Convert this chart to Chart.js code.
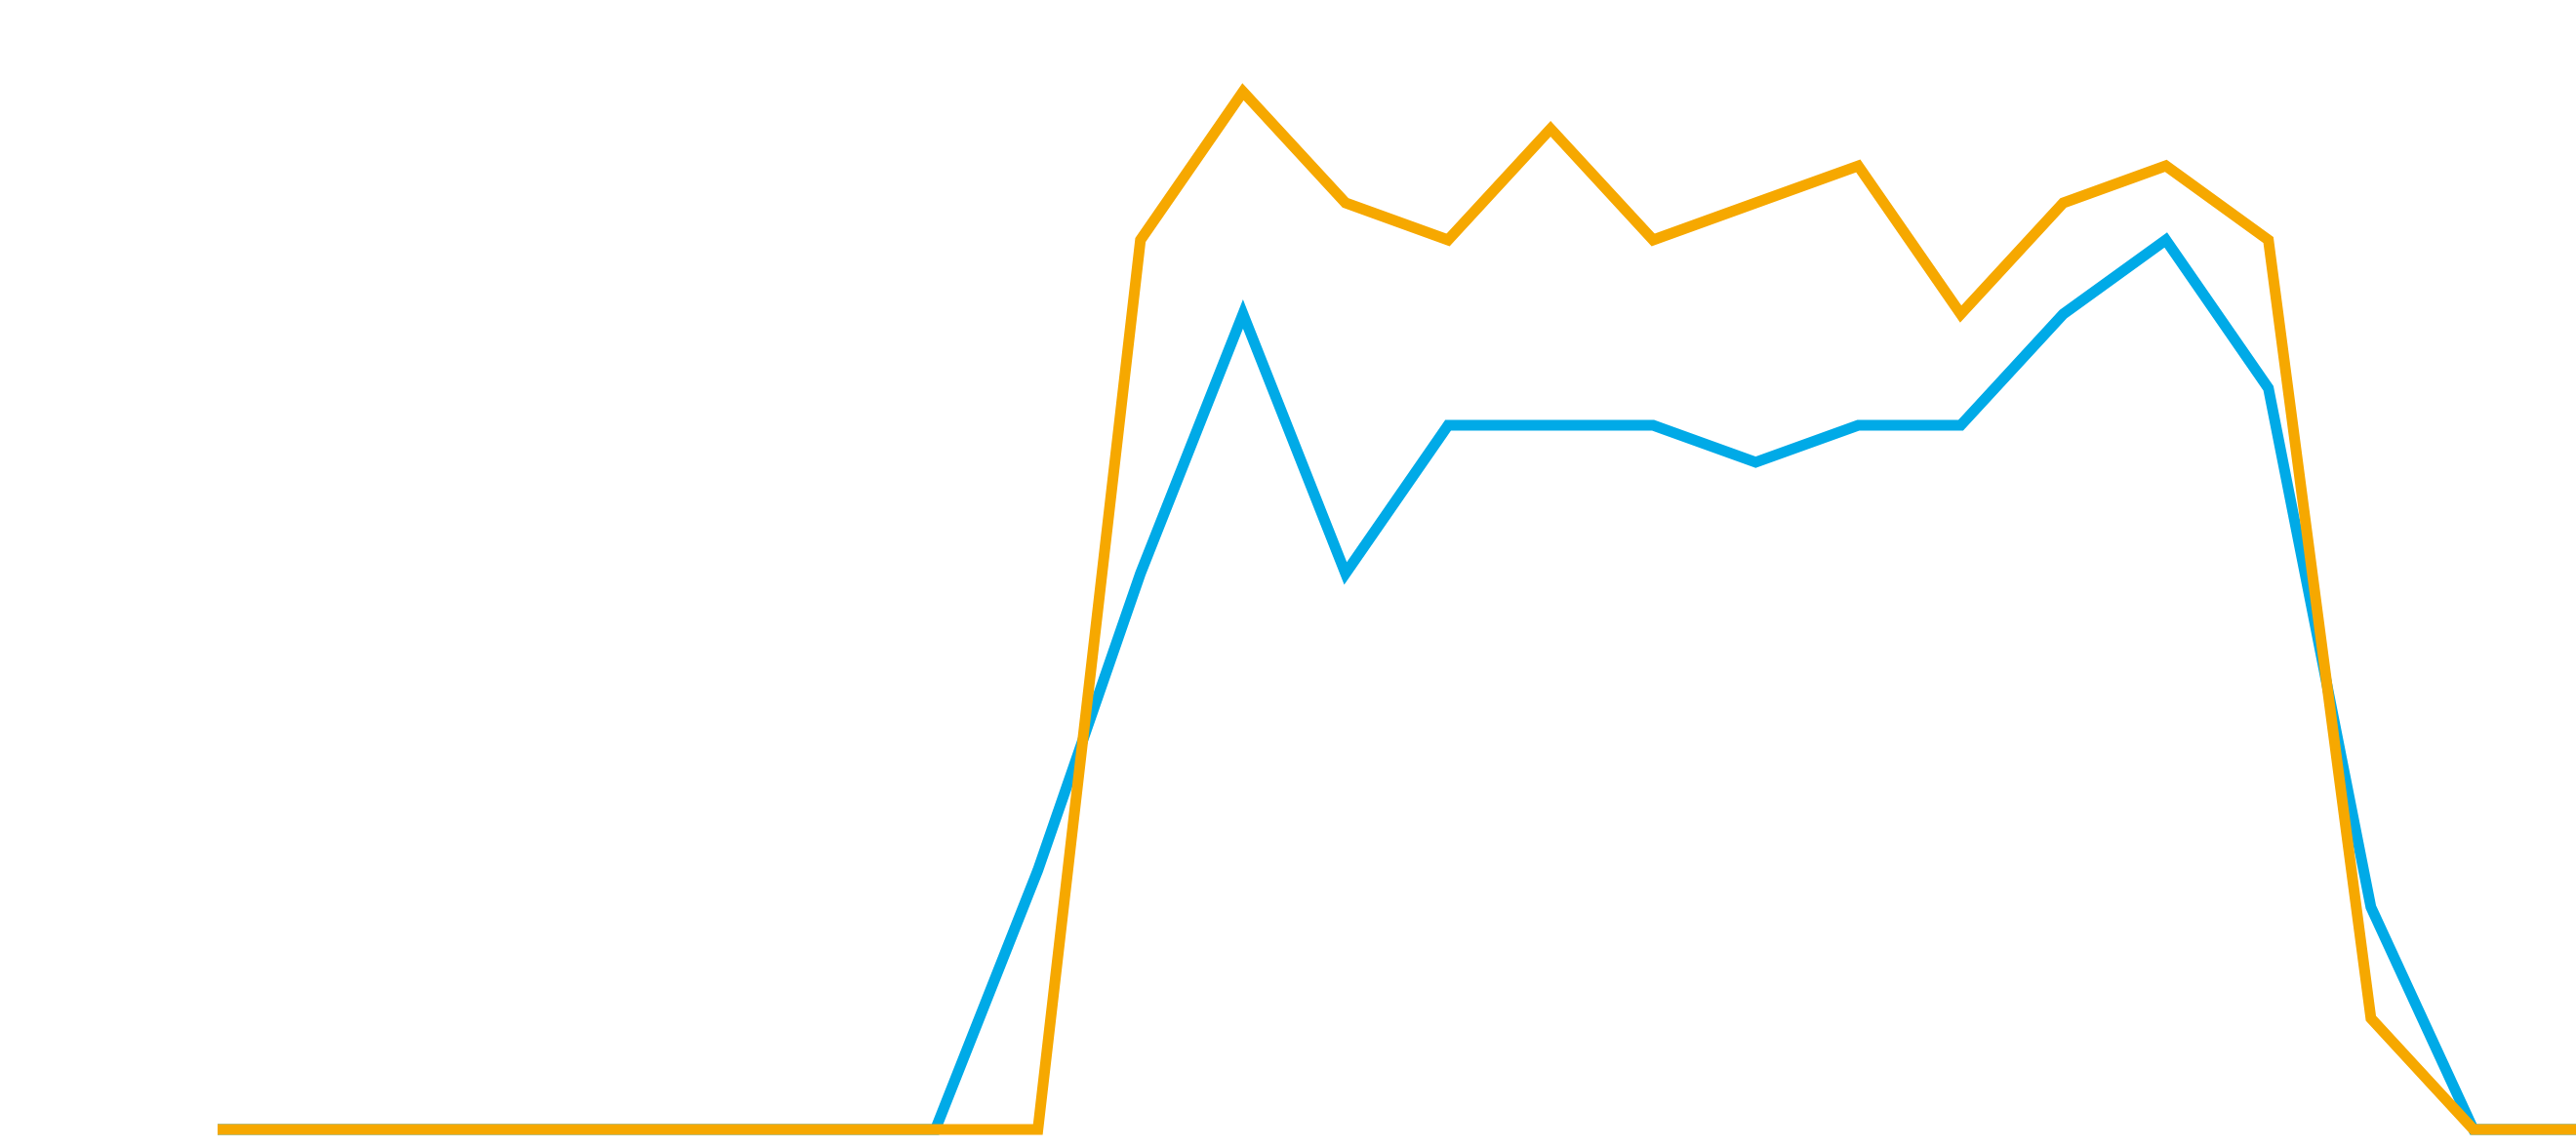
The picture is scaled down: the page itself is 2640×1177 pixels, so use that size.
<!DOCTYPE html>
<html>
<head>
<meta charset="utf-8">
<script src="https://cdn.jsdelivr.net/npm/chart.js@4"></script>
<style>
  html, body { margin: 0; padding: 0; background: #ffffff; }
  #wrap { width: 2640px; height: 1177px; position: relative; }
</style>
</head>
<body>
<div id="wrap"><canvas id="c"></canvas></div>
<script>
const hours = ['00:00','01:00','02:00','03:00','04:00','05:00','06:00','07:00','08:00','09:00','10:00','11:00',
               '12:00','13:00','14:00','15:00','16:00','17:00','18:00','19:00','20:00','21:00','22:00','23:00'];
const seriesOrange = [0,0,0,0,0,0,0,0,0,24,28,25,24,27,24,25,26,22,25,26,24,3,0,0];
const seriesBlue   = [0,0,0,0,0,0,0,0,7,15,22,15,19,19,19,18,19,19,22,24,20,6,0,0];
const yMin = 0;
const yMax = 30;

new Chart(document.getElementById('c'), {
  type: 'line',
  data: {
    labels: hours,
    datasets: [
      {
        label: 'Series A',
        data: seriesOrange,
        borderColor: '#f6a800',
        backgroundColor: '#f6a800',
        borderWidth: 11,
        pointRadius: 0,
        tension: 0,
        fill: false,
        clip: false,
        order: 0
      },
      {
        label: 'Series B',
        data: seriesBlue,
        borderColor: '#00aae7',
        backgroundColor: '#00aae7',
        borderWidth: 11,
        pointRadius: 0,
        tension: 0,
        fill: false,
        clip: false,
        order: 1
      }
    ]
  },
  options: {
    responsive: true,
    maintainAspectRatio: false,
    animation: false,
    layout: { padding: { left: 223, top: 18, right: 0, bottom: 19 } },
    plugins: {
      legend: { display: false },
      title: { display: false },
      tooltip: { enabled: false }
    },
    scales: {
      x: { display: false, offset: false },
      y: { display: false, min: yMin, max: yMax }
    }
  }
});
</script>
</body>
</html>
